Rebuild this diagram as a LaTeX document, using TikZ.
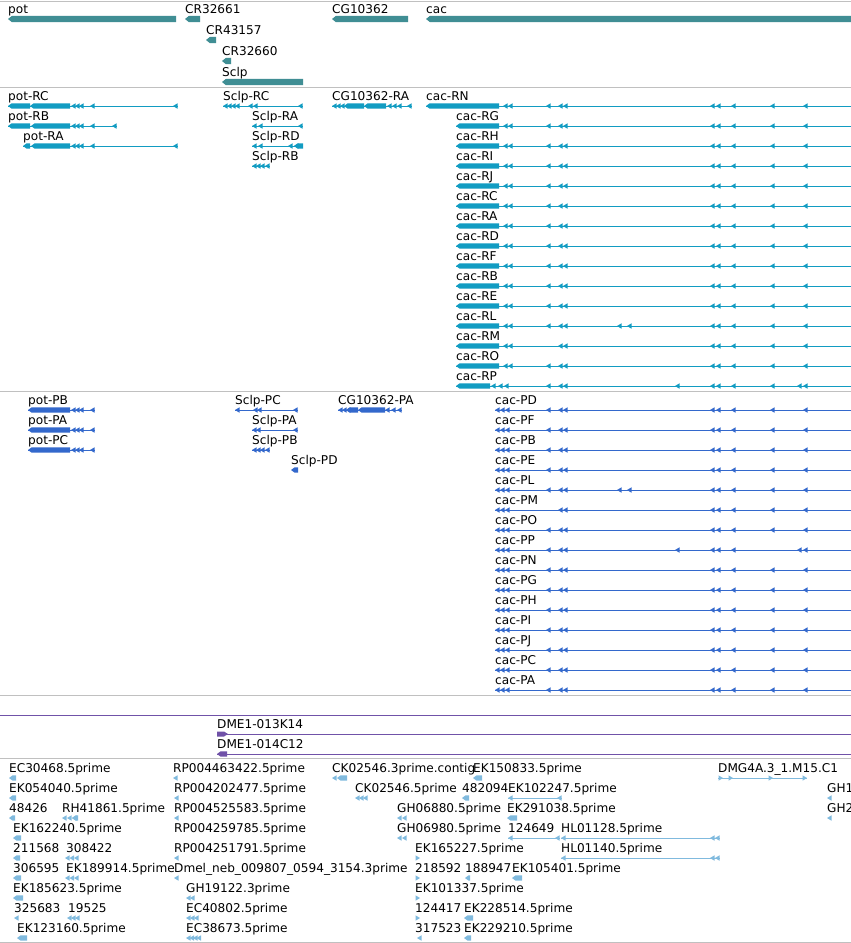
\documentclass[tikz,border=0pt]{standalone}
\usepackage{fontspec}
\setmainfont{DejaVu Sans}
\definecolor{gene}{RGB}{64,142,148}
\definecolor{tr}{RGB}{18,156,194}
\definecolor{pr}{RGB}{51,104,204}
\definecolor{pu}{RGB}{112,82,168}
\definecolor{es}{RGB}{128,186,222}
\definecolor{sep}{RGB}{192,192,192}
\newcommand\fs{\fontsize{12.1}{13}\selectfont}
\newcount\labn
% label: x, track y, text
\newcommand\lab[3]{\global\advance\labn by 1 \node[lab] (t\the\labn) at (#1,#2-6) {#3};}
% left marker: color, x, y
\newcommand\mk[3]{\fill[#1] (#2,#3) -- ++(4.5,-2.7) -- ++(0,5.4) -- cycle;}
% right marker
\newcommand\rmk[3]{\fill[#1] (#2+5,#3) -- ++(-4.5,-2.7) -- ++(0,5.4) -- cycle;}
% several left markers: color, y, list
\newcommand\mks[3]{\foreach \q in {#3} {\mk{#1}{\q}{#2}}}
% block with left tip: color, x0, x1, y
\newcommand\bk[4]{\fill[#1] (#2,#4) -- (#2+3.5,#4-2.6) -- (#3,#4-2.6) -- (#3,#4+2.6) -- (#2+3.5,#4+2.6) -- cycle;}
% gene bar: color, x0, x1, y
\newcommand\gbk[4]{\fill[#1] (#2,#4) -- (#2+4,#4-3.2) -- (#3,#4-3.2) -- (#3,#4+3.2) -- (#2+4,#4+3.2) -- cycle;}
% thin line: color, x0, x1, y
\newcommand\hl[4]{\draw[#1,line width=1pt] (#2,#4) -- (#3,#4);}
\newcommand\cacT[3]{\hl{tr}{456}{851}{#1}\bk{tr}{456}{499}{#1}\mks{tr}{#1}{#3}\lab{456}{#1}{#2}}
\newcommand\cacP[3]{\hl{pr}{495}{851}{#1}\mks{pr}{#1}{#3}\lab{495}{#1}{#2}}
\begin{document}
\begin{tikzpicture}[x=1pt,y=-1pt,lab/.style={anchor=base west,inner sep=0pt,font=\fs,text=black}]
\fill[white] (0,0) rectangle (851,943);
\useasboundingbox (0,0) rectangle (851,943);
\foreach \s in {1,87.5,391.5,695,758.5,942.3} \draw[sep,line width=1pt] (0,\s) -- (851,\s);
% ---------- genes
\gbk{gene}{8}{176}{19}\lab{8}{19}{pot}
\gbk{gene}{185}{200}{19}\lab{185}{19}{CR32661}
\gbk{gene}{206}{216}{40}\lab{206}{40}{CR43157}
\gbk{gene}{222}{231}{61}\lab{222}{61}{CR32660}
\gbk{gene}{222}{303}{82}\lab{222}{82}{Sclp}
\gbk{gene}{332}{408}{19}\lab{332}{19}{CG10362}
\gbk{gene}{426}{852}{19}\lab{426}{19}{cac}
% ---------- transcripts
\hl{tr}{8}{178}{106}\bk{tr}{8}{30}{106}\bk{tr}{30}{70}{106}\mks{tr}{106}{71,75,79,90,173}\lab{8}{106}{pot-RC}
\hl{tr}{8}{117}{126}\bk{tr}{8}{30}{126}\bk{tr}{31}{70}{126}\mks{tr}{126}{71,75,79,90,112}\lab{8}{126}{pot-RB}
\hl{tr}{23}{178}{146}\bk{tr}{23}{30}{146}\bk{tr}{31}{70}{146}\mks{tr}{146}{71,75,79,90,173}\lab{23}{146}{pot-RA}
\hl{tr}{223}{303}{106}\mks{tr}{106}{223,227,231,235,248,253,298}\lab{223}{106}{Sclp-RC}
\hl{tr}{252}{303}{126}\mks{tr}{126}{252,258,298}\lab{252}{126}{Sclp-RA}
\hl{tr}{252}{303}{146}\mks{tr}{146}{252,258,288,294}\bk{tr}{294}{303}{146}\lab{252}{146}{Sclp-RD}
\hl{tr}{252}{270}{166}\mks{tr}{166}{252,256,260,265}\lab{252}{166}{Sclp-RB}
\hl{tr}{332}{412}{106}\mks{tr}{106}{332,336,340}\bk{tr}{344}{364}{106}\bk{tr}{364}{386}{106}\mks{tr}{106}{387,392,397,407}\lab{332}{106}{CG10362-RA}
\hl{tr}{426}{851}{106}\bk{tr}{426}{499}{106}\mks{tr}{106}{503,508,546,558,563,710,716,731,770,803}\lab{426}{106}{cac-RN}
\cacT{126}{cac-RG}{503,508,546,558,563,710,716,731,770,803}
\cacT{146}{cac-RH}{503,508,546,558,563,710,716,731,770,803}
\cacT{166}{cac-RI}{503,508,546,558,563,710,716,731,770,803}
\cacT{186}{cac-RJ}{503,508,546,558,563,710,716,731,770,803}
\cacT{206}{cac-RC}{503,508,546,558,563,710,716,731,770,803}
\cacT{226}{cac-RA}{503,508,546,558,563,710,716,731,770,803}
\cacT{246}{cac-RD}{503,508,546,558,563,710,716,731,770,803}
\cacT{266}{cac-RF}{503,508,546,558,563,710,716,731,770,803}
\cacT{286}{cac-RB}{503,508,546,558,563,710,716,731,770,803}
\cacT{306}{cac-RE}{503,508,546,558,563,710,716,731,770,803}
\cacT{326}{cac-RL}{503,508,546,558,563,617,627,710,716,731,770,803}
\cacT{346}{cac-RM}{503,508,558,563,710,716,731,770,803}
\cacT{366}{cac-RO}{503,508,546,558,563,710,716,731,770,803}
\hl{tr}{456}{851}{386}\bk{tr}{456}{490}{386}\mks{tr}{386}{491,498,504,546,558,563,675,710,716,731,770,797,803}\lab{456}{386}{cac-RP}
% ---------- proteins
\hl{pr}{28}{95}{410}\bk{pr}{28}{70}{410}\mks{pr}{410}{71,75,79,90}\lab{28}{410}{pot-PB}
\hl{pr}{28}{95}{430}\bk{pr}{28}{70}{430}\mks{pr}{430}{71,75,79,90}\lab{28}{430}{pot-PA}
\hl{pr}{28}{95}{450}\bk{pr}{28}{70}{450}\mks{pr}{450}{71,75,79,90}\lab{28}{450}{pot-PC}
\hl{pr}{235}{298}{410}\mks{pr}{410}{235,253,257,293}\lab{235}{410}{Sclp-PC}
\hl{pr}{252}{298}{430}\mks{pr}{430}{252,256,293}\lab{252}{430}{Sclp-PA}
\hl{pr}{252}{270}{450}\mks{pr}{450}{252,256,260,265}\lab{252}{450}{Sclp-PB}
\bk{pr}{291}{298}{470}\lab{291}{470}{Sclp-PD}
\hl{pr}{338}{402}{410}\mks{pr}{410}{338,342,346}\bk{pr}{346}{358}{410}\bk{pr}{358}{385}{410}\mks{pr}{410}{385,391,397}\lab{338}{410}{CG10362-PA}
\cacP{410}{cac-PD}{495,500,505,546,558,563,710,716,731,770,803}
\cacP{430}{cac-PF}{495,500,505,546,558,563,710,716,731,770,803}
\cacP{450}{cac-PB}{495,500,505,546,558,563,710,716,731,770,803}
\cacP{470}{cac-PE}{495,500,505,546,558,563,710,716,731,770,803}
\cacP{490}{cac-PL}{495,500,505,546,558,563,617,627,710,716,731,770,803}
\cacP{510}{cac-PM}{495,500,505,558,563,710,716,731,770,803}
\cacP{530}{cac-PO}{495,500,505,546,558,563,710,716,731,770,803}
\cacP{550}{cac-PP}{495,500,505,546,558,563,675,710,716,731,797,803}
\cacP{570}{cac-PN}{495,500,505,546,558,563,710,716,731,770,803}
\cacP{590}{cac-PG}{495,500,505,546,558,563,710,716,731,770,803}
\cacP{610}{cac-PH}{495,500,505,546,558,563,710,716,731,770,803}
\cacP{630}{cac-PI}{495,500,505,546,558,563,710,716,731,770,803}
\cacP{650}{cac-PJ}{495,500,505,546,558,563,710,716,731,770,803}
\cacP{670}{cac-PC}{495,500,505,546,558,563,710,716,731,770,803}
\cacP{690}{cac-PA}{495,500,505,546,558,563,710,716,731,770,803}
% ---------- clones
\hl{pu}{0}{851}{715}
\hl{pu}{217}{851}{734}\fill[pu] (217,731.5) -- (224,731.5) -- (228,734) -- (224,736.5) -- (217,736.5) -- cycle;\lab{217}{734}{DME1-013K14}
\hl{pu}{217}{851}{754}\bk{pu}{217}{227}{754}\lab{217}{754}{DME1-014C12}
% ---------- ESTs
% row 778
\bk{es}{9}{16}{778}\lab{9}{778}{EC30468.5prime}
\mk{es}{173}{778}\lab{173}{778}{RP004463422.5prime}
\mk{es}{332}{778}\bk{es}{337}{347}{778}\lab{332}{778}{CK02546.3prime.contig}
\bk{es}{473}{482}{778}\lab{473}{778}{EK150833.5prime}
\hl{es}{718}{807}{778}\rmk{es}{718}{778}\rmk{es}{728}{778}\rmk{es}{768}{778}\rmk{es}{802}{778}\lab{718}{778}{DMG4A.3\_1.M15.C1}
% row 798
\bk{es}{9}{16}{798}\lab{9}{798}{EK054040.5prime}
\mk{es}{174}{798}\lab{174}{798}{RP004202477.5prime}
\mks{es}{798}{355,359,363}\lab{355}{798}{CK02546.5prime}
\bk{es}{462}{469}{798}\lab{462}{798}{482094}
\hl{es}{508}{562}{798}\mks{es}{798}{508,557}\lab{508}{798}{EK102247.5prime}
\mk{es}{827}{798}\lab{827}{798}{GH1}
% row 818
\bk{es}{9}{15}{818}\lab{9}{818}{48426}
\mks{es}{818}{62,67,72}\bk{es}{72}{78}{818}\lab{62}{818}{RH41861.5prime}
\mk{es}{174}{818}\lab{174}{818}{RP004525583.5prime}
\mks{es}{818}{397,402}\lab{397}{818}{GH06880.5prime}
\bk{es}{507}{517}{818}\lab{507}{818}{EK291038.5prime}
\mk{es}{827}{818}\lab{827}{818}{GH2}
% row 838
\bk{es}{13}{21}{838}\lab{13}{838}{EK162240.5prime}
\lab{174}{838}{RP004259785.5prime}
\mks{es}{838}{397,402}\lab{397}{838}{GH06980.5prime}
\hl{es}{508}{560}{838}\mks{es}{838}{508,555}\lab{508}{838}{124649}
\hl{es}{561}{720}{838}\mks{es}{838}{561,710,715}\lab{561}{838}{HL01128.5prime}
% row 858
\bk{es}{13}{20}{858}\lab{13}{858}{211568}
\mks{es}{858}{65,69.5,74}\lab{66}{858}{308422}
\mk{es}{174}{858}\lab{174}{858}{RP004251791.5prime}
\rmk{es}{415}{858}\lab{415}{858}{EK165227.5prime}
\hl{es}{561}{720}{858}\mks{es}{858}{561,710,715}\lab{561}{858}{HL01140.5prime}
% row 878
\bk{es}{13}{21}{878}\lab{13}{878}{306595}
\mks{es}{878}{65,69.5,74}\lab{66}{878}{EK189914.5prime}
\mk{es}{174}{878}\lab{174}{878}{Dmel\_neb\_009807\_0594\_3154.3prime}
\rmk{es}{415}{878}\lab{415}{878}{218592}
\bk{es}{465}{470}{878}\lab{465}{878}{188947}
\bk{es}{512}{522}{878}\lab{512}{878}{EK105401.5prime}
% row 898
\bk{es}{13}{23}{898}\lab{13}{898}{EK185623.5prime}
\mks{es}{898}{186,190}\lab{186}{898}{GH19122.3prime}
\rmk{es}{415}{898}\lab{415}{898}{EK101337.5prime}
% row 918
\mk{es}{14}{918}\lab{14}{918}{325683}
\mks{es}{918}{67,71,75}\lab{68}{918}{19525}
\mks{es}{918}{186,190,194}\lab{186}{918}{EC40802.5prime}
\rmk{es}{415}{918}\lab{415}{918}{124417}
\bk{es}{464}{473}{918}\lab{464}{918}{EK228514.5prime}
% row 938
\bk{es}{17}{27}{938}\lab{17}{938}{EK123160.5prime}
\mks{es}{938}{186,189.5,193,196.5}\lab{186}{938}{EC38673.5prime}
\mk{es}{417}{938}\lab{415}{938}{317523}
\bk{es}{464}{471}{938}\lab{464}{938}{EK229210.5prime}
\end{tikzpicture}
\end{document}
